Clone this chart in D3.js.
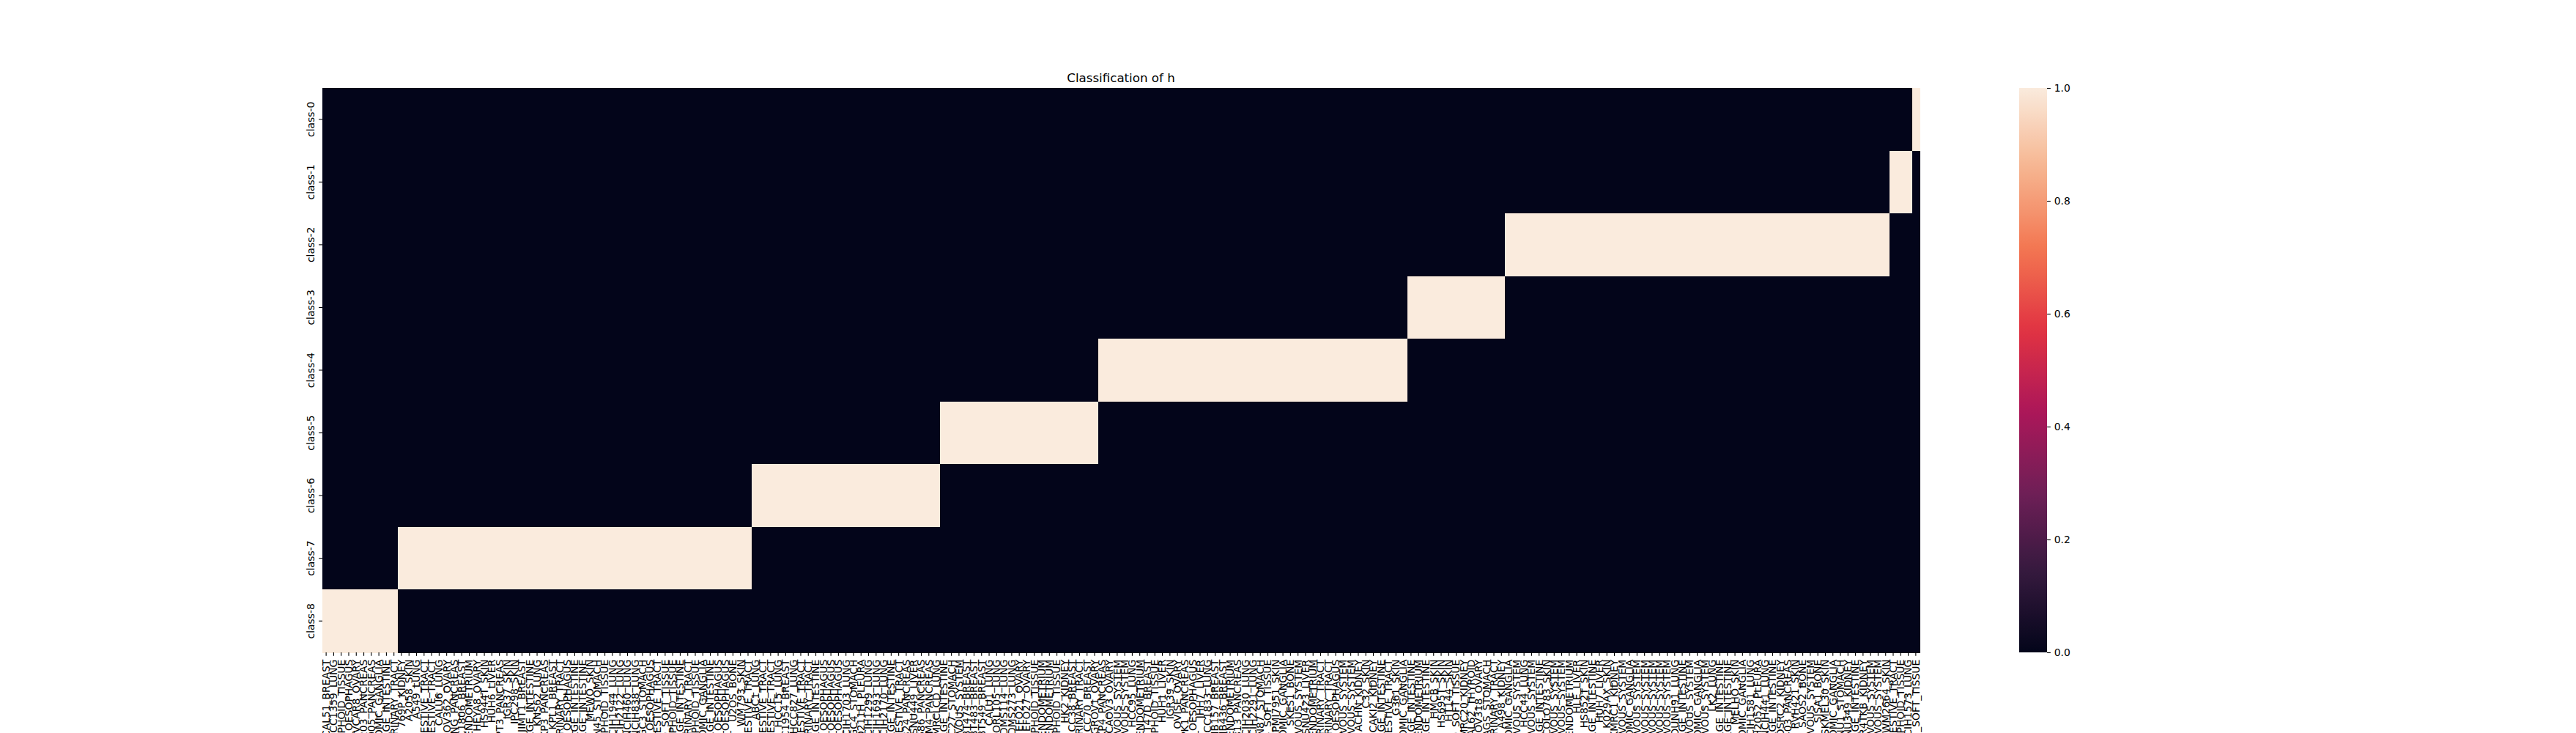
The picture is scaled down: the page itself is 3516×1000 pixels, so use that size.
<!DOCTYPE html>
<html><head><meta charset="utf-8">
<script src="https://cdn.jsdelivr.net/npm/d3@7"></script>
<style>html,body{margin:0;padding:0;background:#fff;overflow:hidden}</style>
</head><body>
<svg id="chart" width="3516" height="1000"></svg>
<script>
// ---------- data ----------
const titleText = "Classification of h";
const classLabels = ["class-0","class-1","class-2","class-3","class-4","class-5","class-6","class-7","class-8"];

const columnLabels = [
  // class-8
  "CAL51_BREAST","HCC1359_LUNG","JURKAT_HAEMATOPOIETIC_AND_LYMPHOID_TISSUE","KYSE150_OESOPHAGUS","OVCAR8_OVARY",
  "PANC0203_PANCREAS","PANC1005_PANCREAS","SKNAS_AUTONOMIC_GANGLIA","SW480_LARGE_INTESTINE","UMUC3_URINARY_TRACT",
  // class-7
  "769P_KIDNEY","A2058_SKIN","A549_LUNG","BICR22_UPPER_AERODIGESTIVE_TRACT","BICR56_UPPER_AERODIGESTIVE_TRACT",
  "CALU6_LUNG","COV362_OVARY","DANG_PANCREAS","HCC1806_BREAST","HEC1A_ENDOMETRIUM",
  "HEYA8_OVARY","HS944T_SKIN","HUH6_LIVER","HUPT3_PANCREAS","IGR37_SKIN",
  "IPC298_SKIN","JIMT1_BREAST","LS180_LARGE_INTESTINE","KNS62_LUNG","KP3_PANCREAS",
  "KPL1_BREAST","KU1919_URINARY_TRACT","KYSE30_OESOPHAGUS","LOVO_LARGE_INTESTINE","LS411N_LARGE_INTESTINE",
  "MEWO_SKIN","MKN45_STOMACH","MOLM13_HAEMATOPOIETIC_AND_LYMPHOID_TISSUE","NCIH1944_LUNG","NCIH2122_LUNG",
  "NCIH460_LUNG","NCIH838_LUNG","NUGC3_STOMACH","OE19_OESOPHAGUS","PECAPJ49_UPPER_AERODIGESTIVE_TRACT",
  "RD_SOFT_TISSUE","RPMI8226_HAEMATOPOIETIC_AND_LYMPHOID_TISSUE","RKO_LARGE_INTESTINE","RT4_URINARY_TRACT","SUDHL4_HAEMATOPOIETIC_AND_LYMPHOID_TISSUE",
  "SKNSH_AUTONOMIC_GANGLIA","SW620_LARGE_INTESTINE","TE1_OESOPHAGUS","TE8_OESOPHAGUS","U2OS_BONE",
  "WM793_SKIN","YD38_UPPER_AERODIGESTIVE_TRACT",
  // class-6
  "ABC1_LUNG","BICR16_UPPER_AERODIGESTIVE_TRACT","BICR31_UPPER_AERODIGESTIVE_TRACT","HCC15_LUNG","HCC1954_BREAST",
  "HCC827_LUNG","HSC2_UPPER_AERODIGESTIVE_TRACT","HT1197_URINARY_TRACT","HT55_LARGE_INTESTINE","KYSE140_OESOPHAGUS",
  "KYSE180_OESOPHAGUS","KYSE510_OESOPHAGUS","NCIH1703_LUNG","NUGC4_STOMACH","MSTO211H_PLEURA",
  "NCIH1299_LUNG","NCIH1693_LUNG","NCIH2170_LUNG","SNU175_LARGE_INTESTINE","SCC9_UPPER_AERODIGESTIVE_TRACT",
  "SNU324_PANCREAS","SNU449_LIVER","SU8686_PANCREAS","T3M4_PANCREAS","VMRCLCD_LUNG",
  // class-5
  "CCK81_LARGE_INTESTINE","HGC27_STOMACH","A172_CENTRAL_NERVOUS_SYSTEM","BT474_BREAST","BT483_BREAST",
  "BT549_BREAST","CALU1_LUNG","CORL105_LUNG","DMS114_LUNG","DMS273_LUNG",
  "EFO21_OVARY","EFO27_OVARY","EOL1_HAEMATOPOIETIC_AND_LYMPHOID_TISSUE","ESS1_ENDOMETRIUM","HEC1B_ENDOMETRIUM",
  "HEL_HAEMATOPOIETIC_AND_LYMPHOID_TISSUE","HK2_KIDNEY","HCC38_BREAST","HT1376_URINARY_TRACT","HCC70_BREAST",
  "IGROV1_OVARY",
  // class-4
  "KP4_PANCREAS","CAOV3_OVARY","SF295_CENTRAL_NERVOUS_SYSTEM","SF539_CENTRAL_NERVOUS_SYSTEM","HCC95_LUNG",
  "AN3CA_ENDOMETRIUM","T47D_BREAST","KASUMI1_HAEMATOPOIETIC_AND_LYMPHOID_TISSUE","HUH1_LIVER","IGR39_SKIN",
  "OVISE_OVARY","PK1_PANCREAS","OE33_OESOPHAGUS","JHH7_LIVER","HCC1833_LUNG",
  "MDAMB157_BREAST","MDAMB436_BREAST","MFE280_ENDOMETRIUM","PANC0813_PANCREAS","NCIH2030_LUNG",
  "NCIH2291_LUNG","NCIN87_STOMACH","A204_SOFT_TISSUE","RPMI7951_SKIN","KELLY_AUTONOMIC_GANGLIA",
  "SKES1_BONE","SF268_CENTRAL_NERVOUS_SYSTEM","SNU423_LIVER","MFE296_ENDOMETRIUM","SCABER_URINARY_TRACT",
  "SW780_URINARY_TRACT","KYSE70_OESOPHAGUS","SNU201_CENTRAL_NERVOUS_SYSTEM","U87MG_CENTRAL_NERVOUS_SYSTEM","ACHN_KIDNEY",
  "C32_SKIN","CAKI2_KIDNEY","COLO678_LARGE_INTESTINE","DETROIT562_UPPER_AERODIGESTIVE_TRACT","G361_SKIN",
  "CHP212_AUTONOMIC_GANGLIA",
  // class-3
  "HCT116_LARGE_INTESTINE","ISHIKAWAHERAKLIO02ER_ENDOMETRIUM","HT29_LARGE_INTESTINE","HMCB_SKIN","HS695T_SKIN",
  "HT144_SKIN","HS729_SOFT_TISSUE","KMRC20_KIDNEY","CAL62_THYROID","COV318_OVARY",
  "AGS_STOMACH","RT112_URINARY_TRACT","A498_KIDNEY",
  // class-2
  "CHP126_AUTONOMIC_GANGLIA","HS683_CENTRAL_NERVOUS_SYSTEM","HCC44_LUNG","DAOY_CENTRAL_NERVOUS_SYSTEM","HT115_LARGE_INTESTINE",
  "COLO783_SKIN","D283MED_CENTRAL_NERVOUS_SYSTEM","DBTRG05MG_CENTRAL_NERVOUS_SYSTEM","EN_ENDOMETRIUM","HLE_LIVER",
  "HS852T_SKIN","COLO320_LARGE_INTESTINE","HUH7_LIVER","K029AX_SKIN","KMRC1_KIDNEY",
  "GAMG_CENTRAL_NERVOUS_SYSTEM","IMR32_AUTONOMIC_GANGLIA","KNS42_CENTRAL_NERVOUS_SYSTEM","LN18_CENTRAL_NERVOUS_SYSTEM","KNS81_CENTRAL_NERVOUS_SYSTEM",
  "LN229_CENTRAL_NERVOUS_SYSTEM","LNZ308_CENTRAL_NERVOUS_SYSTEM","LOUNH91_LUNG","LS1034_LARGE_INTESTINE","M059K_CENTRAL_NERVOUS_SYSTEM",
  "MHHNB11_AUTONOMIC_GANGLIA","SNU466_CENTRAL_NERVOUS_SYSTEM","LK2_LUNG","LS513_LARGE_INTESTINE","MDST8_LARGE_INTESTINE",
  "MELHO_SKIN","NB1_AUTONOMIC_GANGLIA","NCIH1581_LUNG","NCIH2052_PLEURA","NCIH441_LUNG",
  "NCIH716_LARGE_INTESTINE","OSRC2_KIDNEY","PANC0403_PANCREAS","RVH421_SKIN","SAOS2_BONE",
  "SF126_CENTRAL_NERVOUS_SYSTEM","SJSA1_BONE","SKMEL30_SKIN","SKNFI_AUTONOMIC_GANGLIA","SNU1_STOMACH",
  "SNU349_KIDNEY","SW1417_LARGE_INTESTINE","TUHR4TKB_KIDNEY","U118MG_CENTRAL_NERVOUS_SYSTEM","U251MG_CENTRAL_NERVOUS_SYSTEM",
  "WM2664_SKIN",
  // class-1
  "BICR6_UPPER_AERODIGESTIVE_TRACT","KMS11_HAEMATOPOIETIC_AND_LYMPHOID_TISSUE","NCIH1573_LUNG",
  // class-0
  "RH41_SOFT_TISSUE"
];

// index of the class that is 1 for each column (all other classes are 0)
const columnClass = [
  8,8,8,8,8,8,8,8,8,8,
  7,7,7,7,7,7,7,7,7,7, 7,7,7,7,7,7,7,7,7,7, 7,7,7,7,7,7,7,7,7,7, 7,7,7,7,7,7,7,7,7,7, 7,7,7,7,7,7,7,
  6,6,6,6,6,6,6,6,6,6, 6,6,6,6,6,6,6,6,6,6, 6,6,6,6,6,
  5,5,5,5,5,5,5,5,5,5, 5,5,5,5,5,5,5,5,5,5, 5,
  4,4,4,4,4,4,4,4,4,4, 4,4,4,4,4,4,4,4,4,4, 4,4,4,4,4,4,4,4,4,4, 4,4,4,4,4,4,4,4,4,4, 4,
  3,3,3,3,3,3,3,3,3,3, 3,3,3,
  2,2,2,2,2,2,2,2,2,2, 2,2,2,2,2,2,2,2,2,2, 2,2,2,2,2,2,2,2,2,2, 2,2,2,2,2,2,2,2,2,2, 2,2,2,2,2,2,2,2,2,2, 2,
  1,1,1,
  0
];

const colorbarTicks = [0.0, 0.2, 0.4, 0.6, 0.8, 1.0];
// seaborn "rocket" colormap anchor colours (positions k/7)
const rocketStops = ["#03051a","#35193e","#701f57","#ad1759","#e13342","#f37651","#f6b48f","#faebdd"];

// ---------- layout ----------
const W = 3516, H = 1000;
const plot = {left: 440, right: 2620, top: 120, bottom: 890};
const cbar = {left: 2756, right: 2794};
const FS = 13.9, TICK = 4.86, PAD = 4.86;
const font = "DejaVu Sans, Liberation Sans, sans-serif";

const svg = d3.select("#chart");
svg.append("rect").attr("width", W).attr("height", H).attr("fill", "#fff");

const color = d3.scaleLinear()
  .domain(rocketStops.map((_, i) => i / (rocketStops.length - 1)))
  .range(rocketStops)
  .interpolate(d3.interpolateRgb)
  .clamp(true);

const x = d3.scaleBand().domain(d3.range(columnLabels.length)).range([plot.left, plot.right]).paddingInner(0).paddingOuter(0);
const y = d3.scaleBand().domain(classLabels).range([plot.top, plot.bottom]).padding(0);

// cells
const cells = [];
columnLabels.forEach((lab, j) => {
  classLabels.forEach((cls, i) => {
    cells.push({col: j, cls: cls, value: columnClass[j] === i ? 1 : 0});
  });
});
svg.append("g").selectAll("rect").data(cells).join("rect")
  .attr("x", d => x(d.col))
  .attr("y", d => y(d.cls))
  .attr("width", x.bandwidth() + 0.6)
  .attr("height", y.bandwidth() + 0.6)
  .attr("fill", d => color(d.value))
  .attr("shape-rendering", "crispEdges");

// y axis
const yAxis = svg.append("g").attr("transform", `translate(${plot.left},0)`)
  .call(d3.axisLeft(y).tickSize(TICK).tickPadding(PAD));
yAxis.select(".domain").remove();
yAxis.selectAll(".tick line").attr("stroke", "#000").attr("stroke-width", 1.1);
yAxis.selectAll(".tick text")
  .attr("x", null).attr("dy", null)
  .attr("font-family", font).attr("font-size", FS).attr("fill", "#000")
  .attr("text-anchor", "middle")
  .attr("transform", `translate(${-(TICK + PAD + 1.5)},0) rotate(-90)`);

// x axis
const xAxis = svg.append("g").attr("transform", `translate(0,${plot.bottom})`)
  .call(d3.axisBottom(x).tickSize(TICK).tickPadding(PAD).tickFormat(i => columnLabels[i]));
xAxis.select(".domain").remove();
xAxis.selectAll(".tick line").attr("stroke", "#000").attr("stroke-width", 1.1);
xAxis.selectAll(".tick text")
  .attr("y", 0).attr("x", 0).attr("dy", "0.35em")
  .attr("font-family", font).attr("font-size", FS).attr("fill", "#000")
  .attr("text-anchor", "end")
  .attr("transform", `translate(0,${TICK + PAD}) rotate(-90)`);

// title
svg.append("text")
  .attr("x", (plot.left + plot.right) / 2).attr("y", plot.top - 8.33)
  .attr("text-anchor", "middle")
  .attr("font-family", font).attr("font-size", 16.67).attr("fill", "#000")
  .text(titleText);

// colorbar
const defs = svg.append("defs");
const grad = defs.append("linearGradient").attr("id", "rocket")
  .attr("x1", 0).attr("y1", 1).attr("x2", 0).attr("y2", 0);
grad.selectAll("stop").data(d3.range(0, 1.0001, 0.02)).join("stop")
  .attr("offset", d => d).attr("stop-color", d => color(d));
svg.append("rect")
  .attr("x", cbar.left).attr("y", plot.top)
  .attr("width", cbar.right - cbar.left).attr("height", plot.bottom - plot.top)
  .attr("fill", "url(#rocket)");
const cScale = d3.scaleLinear().domain([0, 1]).range([plot.bottom, plot.top]);
const cAxis = svg.append("g").attr("transform", `translate(${cbar.right},0)`)
  .call(d3.axisRight(cScale).tickValues(colorbarTicks).tickFormat(d3.format(".1f")).tickSize(TICK).tickPadding(PAD));
cAxis.select(".domain").remove();
cAxis.selectAll(".tick line").attr("stroke", "#000").attr("stroke-width", 1.1);
cAxis.selectAll(".tick text")
  .attr("font-family", font).attr("font-size", FS).attr("fill", "#000");
</script>
</body></html>
